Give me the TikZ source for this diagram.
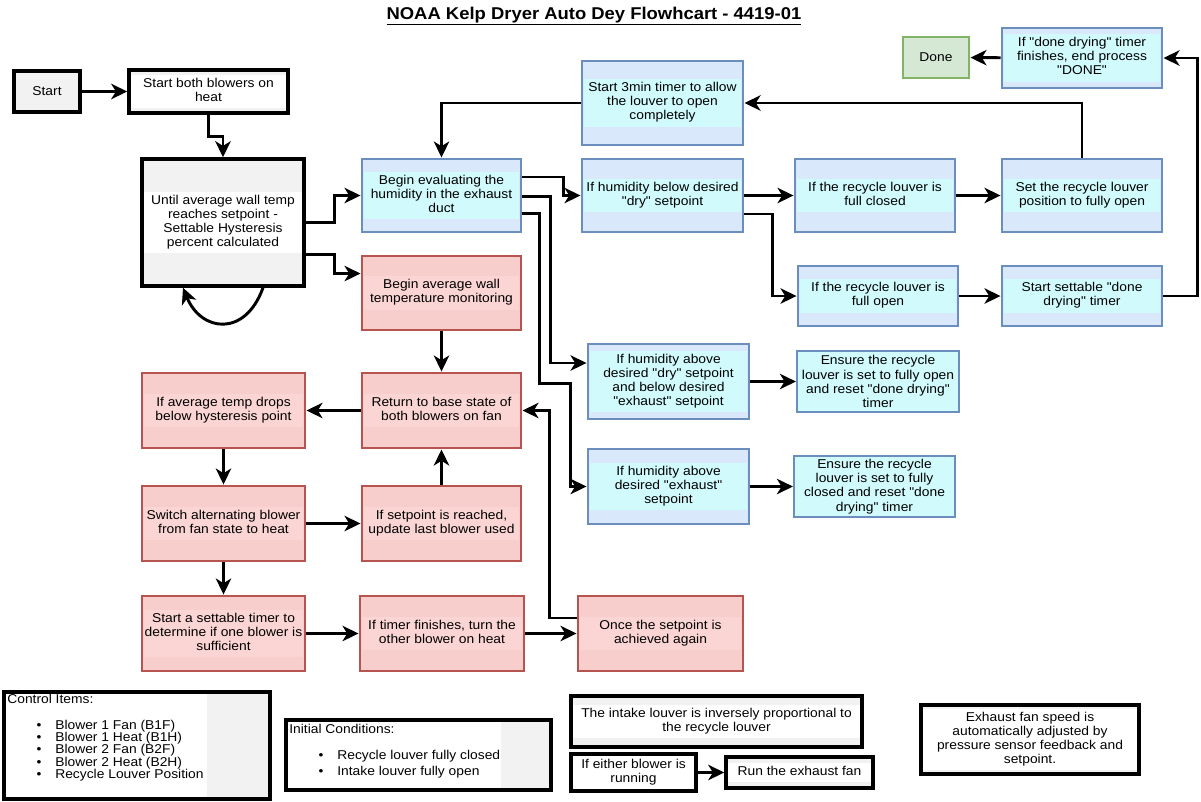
\documentclass[tikz,border=0pt]{standalone}
\usepackage{fontspec}
\setmainfont[FakeStretch=1.08,Ligatures=TeXOff]{Liberation Sans}
\usetikzlibrary{arrows.meta,calc}
\definecolor{cblueline}{RGB}{108,142,191}
\definecolor{cbluefill}{RGB}{218,232,252}
\definecolor{cband}{RGB}{208,250,252}
\definecolor{credline}{RGB}{184,84,80}
\definecolor{credfill}{RGB}{248,206,204}
\definecolor{credband}{RGB}{250,213,211}
\definecolor{cgreenline}{RGB}{130,179,102}
\definecolor{cgreenfill}{RGB}{213,232,212}
\definecolor{cgray}{RGB}{242,242,242}

\newcommand{\boxfont}{\fontsize{9.6}{10.6}\selectfont}
\newcommand{\band}[3]{\setlength{\fboxsep}{2pt}\colorbox{#1}{\makebox[\dimexpr #2pt*3/4-7pt\relax]{\begin{tabular}{@{}c@{}}#3\end{tabular}}}}
\newcommand{\listbox}[3]{\parbox[c][\dimexpr #2pt*3/4-3pt\relax][t]{\dimexpr #1pt*3/4-5pt\relax}{\raggedright\fontsize{9.6}{9.3}\selectfont #3}}
\newcommand{\itm}[2]{\hspace*{#1}\makebox[14pt][l]{\textbullet}#2}

\begin{document}
\begin{tikzpicture}[
  x=0.75pt, y=-0.75pt,
  font=\boxfont,
  wd/.style={minimum width=#1*0.75pt},
  ht/.style={minimum height=#1*0.75pt},
  box/.style={draw,line width=2.2pt,inner sep=0pt,align=center},
  blackbox/.style={box,draw=black,line width=2.6pt,fill=cgray},
  bluebox/.style={box,draw=cblueline,fill=cbluefill},
  redbox/.style={box,draw=credline,fill=credfill},
  greenbox/.style={box,draw=cgreenline,fill=cgreenfill},
  notebox/.style={box,line width=1.6pt,draw=cblueline,fill=cband},
  arrow/.style={-{Stealth[length=12pt,width=11.5pt,inset=3.5pt]},line width=2.2pt}
]
  \useasboundingbox (0,0) rectangle (1201,801);

  \node (title) at (594,16) {\fontsize{12.8}{14}\selectfont\bfseries\underline{NOAA Kelp Dryer Auto Dey Flowhcart - 4419-01}};

  \node[blackbox,wd=66,ht=41] (start) at (47,91.5) {Start};
  \node[blackbox,wd=159,ht=43] (blowers) at (208.5,91.5) {\band{white}{159}{Start both blowers on\\heat}};
  \node[blackbox,wd=162,ht=127] (until) at (223,222.5) {\band{white}{162}{Until average wall temp\\reaches setpoint -\\Settable Hysteresis\\percent calculated}};

  \node[bluebox,wd=159,ht=73] (evalhum) at (441.5,195.5) {\band{cband}{159}{Begin evaluating the\\humidity in the exhaust\\duct}};
  \node[bluebox,wd=161,ht=84] (louvertimer) at (662.5,103) {\band{cband}{161}{Start 3min timer to allow\\the louver to open\\completely}};
  \node[bluebox,wd=161,ht=73] (hbelow) at (662.5,195.5) {\band{cband}{161}{If humidity below desired\\"dry" setpoint}};
  \node[bluebox,wd=160,ht=73] (fclosed) at (875,195.5) {\band{cband}{160}{If the recycle louver is\\full closed}};
  \node[bluebox,wd=160,ht=73] (setopen) at (1082,195.5) {\band{cband}{160}{Set the recycle louver\\position to fully open}};
  \node[bluebox,wd=160,ht=60] (fopen) at (878,296) {\band{cband}{160}{If the recycle louver is\\full open}};
  \node[bluebox,wd=160,ht=60] (donetimer) at (1082,296) {\band{cband}{160}{Start settable "done\\drying" timer}};
  \node[bluebox,wd=160,ht=60] (enddry) at (1082,58) {\band{cband}{160}{If "done drying" timer\\finishes, end process\\"DONE"}};
  \node[greenbox,wd=66,ht=41] (done) at (936,57.5) {Done};
  \node[bluebox,wd=161,ht=75] (habovedry) at (668.5,381.5) {\band{cband}{161}{If humidity above\\desired "dry" setpoint\\and below desired\\"exhaust" setpoint}};
  \node[notebox,wd=162,ht=61] (ensureopen) at (878,381.5) {Ensure the recycle\\louver is set to fully open\\and reset "done drying"\\timer};
  \node[bluebox,wd=161,ht=75] (haboveexh) at (668.5,486.5) {\band{cband}{161}{If humidity above\\desired "exhaust"\\setpoint}};
  \node[notebox,wd=161,ht=61] (ensureclosed) at (874.5,486.5) {Ensure the recycle\\louver is set to fully\\closed and reset "done\\drying" timer};

  \node[redbox,wd=159,ht=74] (avgwall) at (441.5,293) {\band{credband}{159}{Begin average wall\\temperature monitoring}};
  \node[redbox,wd=159,ht=75] (basestate) at (441.5,410.5) {\band{credband}{159}{Return to base state of\\both blowers on fan}};
  \node[redbox,wd=163,ht=75] (tempdrop) at (223.5,410.5) {\band{credband}{163}{If average temp drops\\below hysteresis point}};
  \node[redbox,wd=163,ht=75] (switchblw) at (223.5,523.5) {\band{credband}{163}{Switch alternating blower\\from fan state to heat}};
  \node[redbox,wd=159,ht=75] (spreached) at (441.5,523.5) {\band{credband}{159}{If setpoint is reached,\\update last blower used}};
  \node[redbox,wd=163,ht=75] (settimer) at (223.5,633.5) {\band{credband}{163}{Start a settable timer to\\determine if one blower is\\sufficient}};
  \node[redbox,wd=164,ht=75] (timerdone) at (442,633.5) {\band{credband}{164}{If timer finishes, turn the\\other blower on heat}};
  \node[redbox,wd=165,ht=75] (achieved) at (660.5,633.5) {\band{credband}{165}{Once the setpoint is\\achieved again}};

  \node[blackbox,fill=white,wd=266,ht=107,
    path picture={\fill[cgray] ($(path picture bounding box.north east)+(-63,0)$) rectangle (path picture bounding box.south east);}]
    (ctrlitems) at (137,745.5) {\listbox{266}{107}{Control Items:\\[10pt]
      \itm{22pt}{Blower 1 Fan (B1F)}\\
      \itm{22pt}{Blower 1 Heat (B1H)}\\
      \itm{22pt}{Blower 2 Fan (B2F)}\\
      \itm{22pt}{Blower 2 Heat (B2H)}\\
      \itm{22pt}{Recycle Louver Position}}};
  \node[blackbox,fill=white,wd=265,ht=70,
    path picture={\fill[cgray] ($(path picture bounding box.north east)+(-50,0)$) rectangle (path picture bounding box.south east);}]
    (initcond) at (418.5,755) {\listbox{265}{70}{\vspace*{2pt}Initial Conditions:\\[10pt]
      \itm{22pt}{Recycle louver fully closed}\\[2.5pt]
      \itm{22pt}{Intake louver fully open}}};
  \node[blackbox,wd=291,ht=51] (intake) at (716.5,721.5) {\band{white}{291}{The intake louver is inversely proportional to\\the recycle louver}};
  \node[blackbox,wd=125,ht=37] (either) at (633.5,772.5) {\band{white}{125}{If either blower is\\running}};
  \node[blackbox,wd=147,ht=31] (runfan) at (799.5,772.5) {\band{white}{147}{Run the exhaust fan}};
  \node[blackbox,wd=218,ht=69] (fanspeed) at (1030,739.5) {\band{white}{218}{Exhaust fan speed is\\automatically adjusted by\\pressure sensor feedback and\\setpoint.}};

  \draw[arrow] (start) -- (blowers);
  \draw[arrow] (blowers.south) -- ++(0,22) -| (until.north);
  \draw[arrow] (until.east) -- ++(29,0) |- (evalhum.west);
  \draw[arrow] ($(until.east)+(0,32)$) -- ++(29,0) |- ($(avgwall.north west)+(0,19)$);
  \draw[arrow] ($(until.south)+(40,0)$) .. controls ($(until.south)+(22,50)$) and ($(until.south)+(-22,44)$) .. ($(until.south)+(-40,0)$);

  \draw[arrow] ($(evalhum.east)+(0,-18.5)$) -- ++(41,0) |- (hbelow.west);
  \draw[arrow] ($(evalhum.east)+(0,1)$) -- ++(28,0) |- ($(habovedry.west)+(0,-18.5)$);
  \draw[arrow] ($(evalhum.east)+(0,18)$) -- ++(17,0) -- ++(0,170) -| ($(haboveexh.west)+(-16,0)$) -- (haboveexh.west);
  \draw[arrow] (hbelow) -- (fclosed);
  \draw[arrow] (fclosed) -- (setopen);
  \draw[arrow] (setopen.north) |- (louvertimer.east);
  \draw[arrow] (louvertimer.west) -| (evalhum.north);
  \draw[arrow] ($(hbelow.east)+(0,18.5)$) -- ++(28,0) |- (fopen.west);
  \draw[arrow] (fopen) -- (donetimer);
  \draw[arrow] (donetimer.east) -- ++(34,0) |- (enddry.east);
  \draw[arrow] (enddry) -- (done);
  \draw[arrow] (habovedry) -- (ensureopen);
  \draw[arrow] (haboveexh) -- (ensureclosed);

  \draw[arrow] (avgwall) -- (basestate);
  \draw[arrow] (basestate) -- (tempdrop);
  \draw[arrow] (tempdrop) -- (switchblw);
  \draw[arrow] (switchblw) -- (spreached);
  \draw[arrow] (spreached) -- (basestate);
  \draw[arrow] (switchblw) -- (settimer);
  \draw[arrow] (settimer) -- (timerdone);
  \draw[arrow] (timerdone) -- (achieved);
  \draw[arrow] ($(achieved.west)+(0,-15.5)$) -- ++(-27,0) |- (basestate.east);

  \draw[arrow] (either) -- (runfan);
\end{tikzpicture}
\end{document}
